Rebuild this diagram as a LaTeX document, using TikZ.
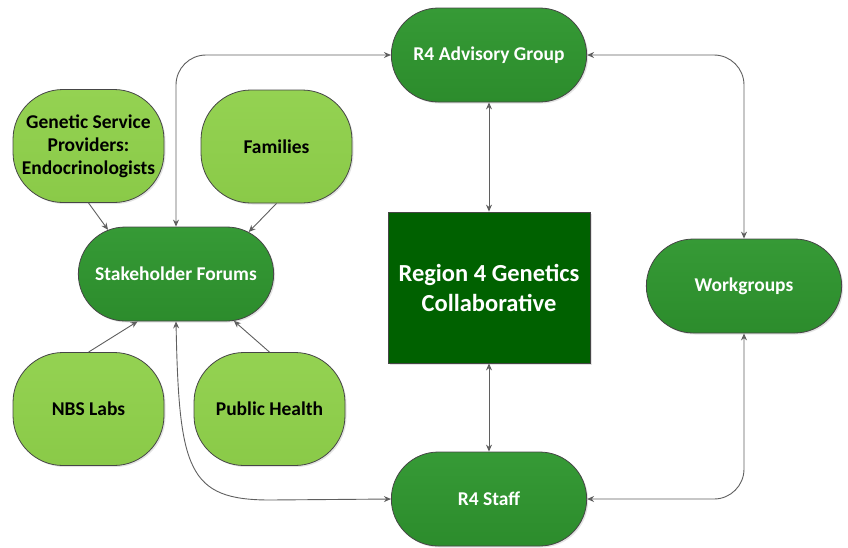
\documentclass[tikz,border=0pt]{standalone}
\usepackage{fontspec}
\setmainfont{Carlito}
\usetikzlibrary{arrows.meta,shapes.misc,shadows}
\definecolor{pilltop}{RGB}{54,154,54}
\definecolor{pillbot}{RGB}{44,140,44}
\definecolor{lighttop}{RGB}{148,210,82}
\definecolor{lightbot}{RGB}{138,202,72}
\definecolor{darksq}{RGB}{0,97,0}
\definecolor{edge}{RGB}{70,70,70}
\definecolor{conn}{RGB}{95,95,95}
\begin{document}
\begin{tikzpicture}[x=1pt,y=-1pt,
  shd/.style={drop shadow={opacity=0.22,shadow xshift=1.5pt,shadow yshift=-1.5pt}},
  pill/.style={rounded rectangle, draw=edge, line width=0.8pt, top color=pilltop, bottom color=pillbot,
    minimum width=202pt, minimum height=94pt, text=white, font=\bfseries\fontsize{19.5}{23}\selectfont, shd},
  lightbox/.style={rectangle, rounded corners=50pt, draw=edge, line width=0.8pt, top color=lighttop, bottom color=lightbot,
    minimum width=151pt, minimum height=113pt, text=black, align=center, inner sep=2pt,
    font=\bfseries\fontsize{19.5}{23}\selectfont, shd},
  square/.style={rectangle, draw=edge, line width=0.8pt, fill=darksq, minimum width=202pt, minimum height=151pt,
    text=white, align=center, font=\bfseries\fontsize{24.5}{30}\selectfont, shd},
  arr/.style={draw=conn, line width=0.9pt, -{Stealth[length=7pt,width=6pt]}},
  darr/.style={draw=conn, line width=0.9pt, {Stealth[length=7pt,width=6pt]}-{Stealth[length=7pt,width=6pt]}}
]
\useasboundingbox (0,0) rectangle (848,547);

\node[pill] (adv) at (489,55) {R4 Advisory Group};
\node[pill] (staff) at (489,499) {R4 Staff};
\node[pill] (sf) at (176,274) {Stakeholder Forums};
\node[pill] (wg) at (744,286) {Workgroups};
\node[square] (r4) at (489,287.5) {Region 4 Genetics\\Collaborative};

\node[lightbox] (gsp) at (88.5,146) {Genetic Service\\Providers:\\Endocrinologists};
\node[lightbox] (fam) at (276.5,146.5) {Families};
\node[lightbox] (nbs) at (88.5,409) {NBS Labs};
\node[lightbox] (ph) at (269.5,409) {Public Health};

% arrows into stakeholder forums
\draw[arr] (gsp.south) -- (sf.147);
\draw[arr] (fam.south) -- (sf.30);
\draw[arr] (nbs.north) -- (sf.231);
\draw[arr] (ph.north) -- (sf.321);

% vertical links
\draw[darr] (adv.south) -- (r4.north);
\draw[darr] (r4.south) -- (staff.north);

% loops
\draw[darr, rounded corners=30pt] (sf.north) |- (adv.west);
\draw[darr, rounded corners=30pt] (adv.east) -| (wg.north);
\draw[darr, rounded corners=30pt] (staff.east) -| (wg.south);
\draw[darr] (sf.south) .. controls (179,470) and (188,500) .. (270,500) -- (staff.west);
\end{tikzpicture}
\end{document}
